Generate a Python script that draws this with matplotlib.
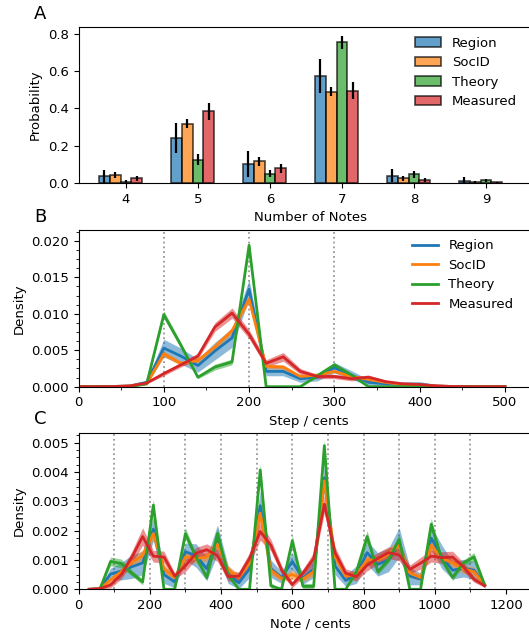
import numpy as np
import matplotlib
matplotlib.use("Agg")
import matplotlib.pyplot as plt
from matplotlib.ticker import AutoMinorLocator, MultipleLocator, FormatStrFormatter

# ---------------- data ----------------
labels = ["Region", "SocID", "Theory", "Measured"]
colors = ["#1f77b4", "#ff7f0e", "#2ca02c", "#d62728"]

# A: number of notes
n_notes = [4, 5, 6, 7, 8, 9]
prob_region = [0.035, 0.240, 0.102, 0.575, 0.040, 0.010]
prob_socid = [0.043, 0.318, 0.117, 0.490, 0.025, 0.005]
prob_theory = [0.008, 0.125, 0.050, 0.755, 0.047, 0.015]
prob_measured = [0.025, 0.385, 0.078, 0.495, 0.017, 0.003]
err_region = [0.035, 0.080, 0.070, 0.090, 0.035, 0.020]
err_socid = [0.015, 0.025, 0.025, 0.025, 0.012, 0.005]
err_theory = [0.008, 0.030, 0.020, 0.035, 0.018, 0.008]
err_measured = [0.012, 0.045, 0.022, 0.045, 0.012, 0.003]

# B: step sizes (cents)
step_x = [0, 20, 40, 60, 80, 100, 120, 140, 160, 180, 200, 220, 240, 260,
          280, 300, 320, 340, 360, 380, 400, 420, 440, 460, 480, 500]
step_region = [0, 0, 0.00003, 0.0001, 0.0006, 0.0053, 0.0042, 0.0029, 0.0049, 0.0067,
               0.0134, 0.0021, 0.0021, 0.0011, 0.0013, 0.0026, 0.0016, 0.0006, 0.0004,
               0.0003, 0.0003, 0.0001, 0.00002, 0, 0, 0]
step_socid = [0, 0, 0.00002, 0.0001, 0.0004, 0.0045, 0.0032, 0.0036, 0.0055, 0.0077,
              0.0120, 0.0028, 0.0027, 0.0014, 0.0016, 0.0021, 0.0014, 0.0010, 0.0006,
              0.0003, 0.0002, 0.0001, 0.00002, 0, 0, 0]
step_theory = [0, 0, 0, 0, 0.0004, 0.0099, 0.0057, 0.0013, 0.0027, 0.0034,
               0.0194, 0, 0, 0, 0.0015, 0.0030, 0.0016, 0, 0,
               0, 0, 0, 0, 0, 0, 0]
step_measured = [0, 0, 0.00002, 0.0001, 0.0005, 0.0018, 0.0030, 0.0042, 0.0082, 0.0101,
                 0.0072, 0.0032, 0.0041, 0.0021, 0.0014, 0.0014, 0.0011, 0.0013, 0.0007,
                 0.0004, 0.0003, 0.0001, 0.00002, 0, 0, 0]
step_region_ci = [0, 0, 0.00003, 0.0001, 0.0003, 0.0012, 0.0011, 0.0009, 0.0012, 0.0013,
                  0.0013, 0.0006, 0.0006, 0.0005, 0.0005, 0.0007, 0.0006, 0.0004, 0.0003,
                  0.0004, 0.0004, 0.0002, 0.00005, 0, 0, 0]
step_socid_ci = [0, 0, 0.00002, 0.00005, 0.0001, 0.0004, 0.0003, 0.0003, 0.0004, 0.0004,
                 0.0005, 0.0003, 0.0003, 0.0002, 0.0002, 0.0002, 0.0002, 0.0002, 0.0001,
                 0.0001, 0.0001, 0.00005, 0, 0, 0, 0]
step_theory_ci = [0, 0, 0, 0, 0.0001, 0.0005, 0.0004, 0.0002, 0.0004, 0.0004,
                  0.0005, 0, 0, 0, 0.0002, 0.0003, 0.0002, 0, 0,
                  0, 0, 0, 0, 0, 0, 0]
step_measured_ci = [0, 0, 0.00002, 0.00005, 0.0001, 0.0003, 0.0003, 0.0004, 0.0006, 0.0007,
                    0.0006, 0.0005, 0.0006, 0.0004, 0.0003, 0.0003, 0.0003, 0.0003, 0.0002,
                    0.0001, 0.0001, 0.00005, 0, 0, 0, 0]

# C: notes (cents)
note_x = [30, 60, 90, 120, 150, 180, 210, 240, 270, 300, 330, 360, 390, 420, 450, 480,
          510, 540, 570, 600, 630, 660, 690, 720, 750, 780, 810, 840, 870, 900, 930, 960,
          990, 1020, 1050, 1080, 1110, 1140]
note_region = [0, 0.00003, 0.00052, 0.00062, 0.00077, 0.0009, 0.00205, 0.0005, 0.00025, 0.00128,
               0.00115, 0.0007, 0.0017, 0.0005, 0.00022, 0.0007, 0.00285, 0.0007, 0.0004, 0.00095,
               0.00037, 0.0007, 0.0038, 0.0008, 0.0003, 0.0005, 0.00125, 0.00085, 0.001, 0.0016,
               0.00045, 0.00035, 0.00175, 0.0011, 0.00065, 0.00072, 0.00065, 0.00015]
note_socid = [0, 0.00002, 0.00032, 0.0006, 0.00092, 0.00115, 0.0019, 0.0007, 0.0004, 0.0011,
              0.00105, 0.0011, 0.00155, 0.00065, 0.00042, 0.00088, 0.0026, 0.00065, 0.00037, 0.0005,
              0.00035, 0.0006, 0.0037, 0.0011, 0.00045, 0.0005, 0.001, 0.001, 0.0012, 0.0015,
              0.00055, 0.0004, 0.0015, 0.00105, 0.0009, 0.0007, 0.0006, 0.00015]
note_theory = [0, 0, 0.00095, 0.00088, 0.00055, 0.00025, 0.00287, 0, 0, 0.0019,
               0.0011, 0.0004, 0.0019, 0.0005, 0, 0, 0.00407, 0.00012, 0, 0.00165,
               0.0001, 0.0001, 0.0049, 0, 0, 0.0006, 0.0018, 0.0006, 0.001, 0.0017,
               0, 0, 0.00222, 0.001, 0.0004, 0.0009, 0.0011, 0.00015]
note_measured = [0, 0.00002, 0.00015, 0.0005, 0.0011, 0.0018, 0.00113, 0.0011, 0.00045, 0.0008,
                 0.00123, 0.00135, 0.00115, 0.00043, 0.00045, 0.00105, 0.00197, 0.0015, 0.00066, 0.00016,
                 0.00055, 0.00105, 0.0029, 0.00125, 0.00055, 0.00043, 0.00083, 0.00105, 0.00125, 0.00117,
                 0.00068, 0.00089, 0.00113, 0.00108, 0.0011, 0.00077, 0.00034, 0.00012]
note_region_ci = [0, 0.00003, 0.0002, 0.0003, 0.0004, 0.0004, 0.0004, 0.0003, 0.0002, 0.0003,
                  0.0004, 0.0004, 0.0005, 0.0003, 0.0002, 0.0003, 0.0005, 0.0003, 0.0002, 0.0003,
                  0.0002, 0.0003, 0.0005, 0.0003, 0.0002, 0.0003, 0.0004, 0.0004, 0.0004, 0.0005,
                  0.0003, 0.0002, 0.0004, 0.0004, 0.0003, 0.0003, 0.0003, 0.0001]
note_socid_ci = [0, 0.00002, 0.0001, 0.00015, 0.00015, 0.0002, 0.0002, 0.00015, 0.0001, 0.00015,
                 0.00015, 0.00015, 0.0002, 0.00015, 0.0001, 0.00015, 0.0003, 0.00015, 0.0001, 0.00015,
                 0.0001, 0.00015, 0.0003, 0.00015, 0.0001, 0.00015, 0.0002, 0.00015, 0.0002, 0.0002,
                 0.00015, 0.0001, 0.0002, 0.00015, 0.00015, 0.00015, 0.00015, 0.00005]
note_theory_ci = [0, 0, 0.00015, 0.00015, 0.0001, 0.0001, 0.0002, 0, 0, 0.0002,
                  0.0001, 0.0001, 0.0002, 0.0001, 0, 0, 0.0002, 0.0001, 0, 0.0002,
                  0.0001, 0.0001, 0.0002, 0, 0, 0.0001, 0.0002, 0.0001, 0.0001, 0.0002,
                  0, 0, 0.0002, 0.0001, 0.0001, 0.0001, 0.00015, 0.00005]
note_measured_ci = [0, 0.00002, 0.0001, 0.00015, 0.0002, 0.0003, 0.0002, 0.0002, 0.0001, 0.0002,
                    0.0002, 0.0002, 0.0002, 0.00015, 0.00015, 0.0002, 0.0003, 0.0002, 0.00015, 0.0001,
                    0.00015, 0.0002, 0.0003, 0.0002, 0.00015, 0.00015, 0.0002, 0.0002, 0.0002, 0.0002,
                    0.00015, 0.0002, 0.0002, 0.0002, 0.0002, 0.00015, 0.0001, 0.00005]

# ---------------- figure ----------------
plt.rcParams['font.family'] = 'DejaVu Sans'
plt.rcParams['font.size'] = 9.5

W, H = 529, 632
fig = plt.figure(figsize=(W / 100, H / 100), dpi=100)

left = 78.5 / W
axA = fig.add_axes([left, 1 - 183 / H, 464 / W, (183 - 27.3) / H])
axB = fig.add_axes([left, 1 - 386.7 / H, 460.6 / W, (386.7 - 230) / H])
axC = fig.add_axes([left, 1 - 589.3 / H, 463.2 / W, (589.3 - 432.7) / H])

for ax in (axA, axB, axC):
    ax.spines['right'].set_visible(False)

# A
probs = [prob_region, prob_socid, prob_theory, prob_measured]
errs = [err_region, err_socid, err_theory, err_measured]
width = 0.15
x = np.array(n_notes, dtype=float)
for i in range(4):
    axA.bar(x + (i - 2) * width, probs[i], width, color=colors[i], alpha=0.7,
            edgecolor='k', linewidth=1.2, label=labels[i])
    axA.errorbar(x + (i - 2) * width, probs[i], yerr=errs[i], fmt='none',
                 ecolor='k', elinewidth=1.6, capsize=0)
axA.set_xlim(4 - 47.5 / 72, 4 - 47.5 / 72 + 464 / 72)
axA.set_ylim(0, 0.835)
axA.set_xticks(n_notes)
axA.yaxis.set_major_locator(MultipleLocator(0.2))
axA.set_xlabel("Number of Notes")
axA.set_ylabel("Probability")
axA.legend(loc='upper left', bbox_to_anchor=(0.705, 1.0), frameon=False,
           borderaxespad=0.3)

# B
steps = [step_region, step_socid, step_theory, step_measured]
step_cis = [step_region_ci, step_socid_ci, step_theory_ci, step_measured_ci]
for c in [100, 200, 300]:
    axB.axvline(c, color='#999999', ls=':', lw=1.3, zorder=0)
for i in range(4):
    y = np.array(steps[i])
    e = np.array(step_cis[i])
    axB.fill_between(step_x, y - e, y + e, color=colors[i], alpha=0.5, lw=0)
    axB.plot(step_x, y, color=colors[i], lw=2, label=labels[i])
axB.set_xlim(0, 540)
axB.set_ylim(0, 0.0215)
axB.xaxis.set_major_locator(MultipleLocator(100))
axB.xaxis.set_minor_locator(AutoMinorLocator(2))
axB.yaxis.set_major_locator(MultipleLocator(0.005))
axB.yaxis.set_minor_locator(AutoMinorLocator(4))
axB.yaxis.set_major_formatter(FormatStrFormatter('%.3f'))
axB.set_xlabel("Step / cents")
axB.set_ylabel("Density")
axB.legend(loc='upper left', bbox_to_anchor=(0.703, 1.0), frameon=False,
           borderaxespad=0.3)

# C
notes = [note_region, note_socid, note_theory, note_measured]
note_cis = [note_region_ci, note_socid_ci, note_theory_ci, note_measured_ci]
for c in range(100, 1200, 100):
    axC.axvline(c, color='#999999', ls=':', lw=1.3, zorder=0)
for i in range(4):
    y = np.array(notes[i])
    e = np.array(note_cis[i])
    axC.fill_between(note_x, y - e, y + e, color=colors[i], alpha=0.5, lw=0)
    axC.plot(note_x, y, color=colors[i], lw=2)
axC.set_xlim(0, 1300)
axC.set_ylim(0, 0.00534)
axC.xaxis.set_major_locator(MultipleLocator(200))
axC.xaxis.set_minor_locator(AutoMinorLocator(2))
axC.yaxis.set_major_locator(MultipleLocator(0.001))
axC.yaxis.set_minor_locator(AutoMinorLocator(4))
axC.yaxis.set_major_formatter(FormatStrFormatter('%.3f'))
axC.set_xlabel("Note / cents")
axC.set_ylabel("Density")

fig.text(40 / W, 1 - 14 / H, "A", fontsize=13, ha='center', va='center')
fig.text(40 / W, 1 - 217 / H, "B", fontsize=13, ha='center', va='center')
fig.text(40 / W, 1 - 419 / H, "C", fontsize=13, ha='center', va='center')

fig.savefig("out.png", dpi=100)
